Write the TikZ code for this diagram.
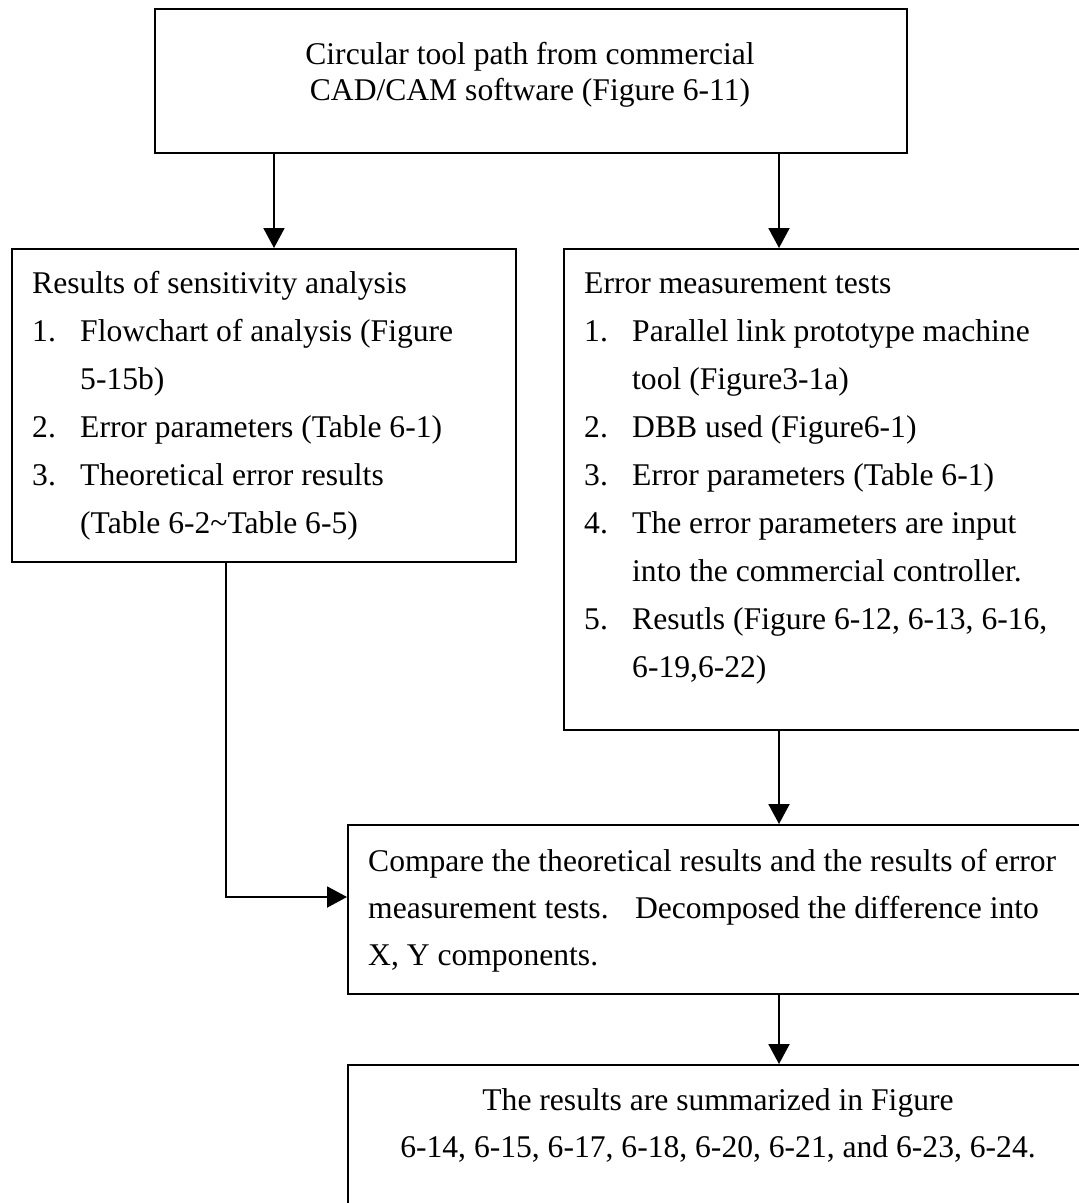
\documentclass[tikz,border=0pt]{standalone}
\usepackage{fontspec}
\setmainfont{Liberation Serif}
\usetikzlibrary{arrows.meta}
\begin{document}
\begin{tikzpicture}[x=1pt,y=-1pt,
  box/.style={draw, line width=2pt, inner sep=0pt, anchor=north west},
  txt/.style={inner sep=0pt, font=\fontsize{31.6}{48}\selectfont},
  ln/.style={txt, anchor=base west},
  cl/.style={txt, anchor=base},
  arr/.style={line width=2pt, -{Triangle[width=21pt,length=20pt]}}]
\useasboundingbox (0,0) rectangle (1079,1203);
\clip (0,0) rectangle (1079,1203);

% boxes (right-hand ones run past the page edge)
\node[box, minimum width=752pt, minimum height=144pt] (top) at (154,8) {};
\node[box, minimum width=504pt, minimum height=313pt] (sens) at (11,248) {};
\node[box, minimum width=527pt, minimum height=481pt] (meas) at (563,248) {};
\node[box, minimum width=743pt, minimum height=169pt] (cmp) at (347,824) {};
\node[box, minimum width=743pt, minimum height=160pt] (res) at (347,1064) {};

% top box text
\node[cl] (t1) at (530,64) {Circular tool path from commercial};
\node[cl] (t2) at (530,100) {CAD/CAM software (Figure 6-11)};

% sensitivity analysis
\node[ln] (s0) at (32,293) {Results of sensitivity analysis};
\node[ln] (s1n) at (32,341) {1.};
\node[ln] (s1) at (80,341) {Flowchart of analysis (Figure};
\node[ln] (s1b) at (80,389) {5-15b)};
\node[ln] (s2n) at (32,437) {2.};
\node[ln] (s2) at (80,437) {Error parameters (Table 6-1)};
\node[ln] (s3n) at (32,485) {3.};
\node[ln] (s3) at (80,485) {Theoretical error results};
\node[ln] (s3b) at (80,533) {(Table 6-2\textasciitilde Table 6-5)};

% error measurement tests
\node[ln] (m0) at (584,293) {Error measurement tests};
\node[ln] (m1n) at (584,341) {1.};
\node[ln] (m1) at (632,341) {Parallel link prototype machine};
\node[ln] (m1b) at (632,389) {tool (Figure3-1a)};
\node[ln] (m2n) at (584,437) {2.};
\node[ln] (m2) at (632,437) {DBB used (Figure6-1)};
\node[ln] (m3n) at (584,485) {3.};
\node[ln] (m3) at (632,485) {Error parameters (Table 6-1)};
\node[ln] (m4n) at (584,533) {4.};
\node[ln] (m4) at (632,533) {The error parameters are input};
\node[ln] (m4b) at (632,581) {into the commercial controller.};
\node[ln] (m5n) at (584,629) {5.};
\node[ln] (m5) at (632,629) {Resutls (Figure 6-12, 6-13, 6-16,};
\node[ln] (m5b) at (632,677) {6-19,6-22)};

% comparison
\node[ln] (c1) at (368,871) {Compare the theoretical results and the results of error};
\node[ln] (c2) at (368,918) {measurement tests.\hspace{0.5em} Decomposed the difference into};
\node[ln] (c3) at (368,965) {X, Y components.};

% summary
\node[cl] (r1) at (718,1110) {The results are summarized in Figure};
\node[cl] (r2) at (718,1157) {6-14, 6-15, 6-17, 6-18, 6-20, 6-21, and 6-23, 6-24.};

% connectors
\coordinate (xL) at (274,0);
\coordinate (xR) at (779,0);
\coordinate (bend) at (226,897);
\draw[arr] (top.south -| xL) -- (sens.north -| xL);
\draw[arr] (top.south -| xR) -- (meas.north -| xR);
\draw[arr] (meas.south -| xR) -- (cmp.north -| xR);
\draw[arr] (sens.south -| bend) -- (bend) -- (cmp.west |- bend);
\draw[arr] (cmp.south -| xR) -- (res.north -| xR);
\end{tikzpicture}
\end{document}
